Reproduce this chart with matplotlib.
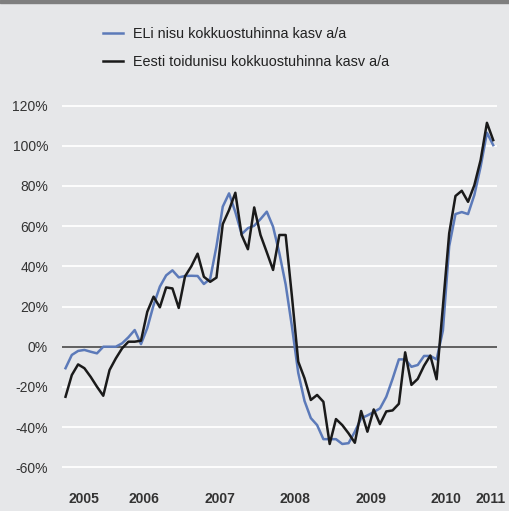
import numpy as np
import pandas as pd
import matplotlib
matplotlib.use("Agg")
import matplotlib.pyplot as plt
from matplotlib.patches import Rectangle

plt.rcParams['font.family'] = ['Liberation Sans', 'DejaVu Sans']

# monthly y/y growth, Jun 2005 .. Feb 2011
months = pd.date_range('2005-06-01', periods=69, freq='MS')

eu_wheat = [-10.7, -4.1, -2.1, -1.6, -2.5, -3.3, 0.0, 0.0, 0.0, 1.7,
            4.7, 8.3, 1.3, 9.3, 20.7, 29.9, 35.5, 38.0, 34.5, 35.2,
            35.3, 35.2, 31.2, 33.8, 50.0, 69.7, 76.3, 67.0, 56.0, 59.0,
            60.2, 63.5, 67.2, 59.7, 46.5, 31.0, 10.0, -13.0, -27.0, -35.5,
            -39.0, -46.0, -46.0, -46.0, -48.4, -48.0, -42.3, -35.6, -34.2, -32.5,
            -30.7, -24.9, -16.0, -6.3, -6.3, -10.0, -9.1, -4.6, -4.6, -6.3,
            8.0, 50.0, 66.0, 67.0, 66.0, 75.5, 89.6, 106.5, 100.3]

ee_wheat = [-24.9, -14.1, -8.8, -10.7, -15.0, -19.9, -24.4, -11.6, -5.8, -0.8,
            2.5, 2.5, 3.0, 17.4, 24.9, 19.6, 29.5, 29.0, 19.3, 35.0,
            40.0, 46.3, 34.8, 32.3, 34.4, 61.0, 68.0, 76.6, 55.6, 48.5,
            69.3, 55.6, 47.0, 38.2, 55.6, 55.6, 25.0, -7.4, -15.7, -26.5,
            -24.0, -27.4, -48.4, -36.0, -39.0, -43.1, -47.8, -32.0, -42.3, -31.2,
            -38.5, -32.2, -31.7, -28.4, -2.8, -19.0, -16.0, -9.5, -4.4, -16.2,
            20.0, 56.4, 75.0, 77.6, 72.1, 80.4, 92.9, 111.4, 102.8]

labels = ['ELi nisu kokkuostuhinna kasv a/a',
          'Eesti toidunisu kokkuostuhinna kasv a/a']
y_ticks = [-60, -40, -20, 0, 20, 40, 60, 80, 100, 120]

bg = '#e6e7e9'
x = np.arange(len(months))
years = months.year
year_list = sorted(set(years))
year_pos = [x[years == yr].mean() for yr in year_list]

fig = plt.figure(figsize=(5.09, 5.11), dpi=100, facecolor=bg)
ax = fig.add_axes([0.1218, 0.0462, 0.8546, 0.7669], facecolor=bg)

# top border strip
fig.patches.append(Rectangle((0, 1 - 3 / 511), 1, 3 / 511, transform=fig.transFigure,
                             color='#7f7f7f', zorder=0))

for v in y_ticks:
    if v == 0:
        ax.axhline(0, color='#555555', lw=1.3, zorder=1)
    else:
        ax.axhline(v, color='white', lw=1.3, zorder=1)

ax.plot(x, eu_wheat, color='#5c7ab9', lw=1.8, label=labels[0], zorder=3)
ax.plot(x, ee_wheat, color='#1a1a1a', lw=1.8, label=labels[1], zorder=4)

ax.set_xlim(-0.56, 68.6)
ax.set_ylim(-70, 125)
ax.set_yticks(y_ticks)
ax.set_yticklabels([f'{v}%' for v in y_ticks])
ax.set_xticks(year_pos)
ax.set_xticklabels([str(yr) for yr in year_list], fontweight='bold')
ax.tick_params(axis='y', length=0, pad=10, labelsize=10, labelcolor='#333333')
ax.tick_params(axis='x', length=0, pad=3.5, labelsize=10, labelcolor='#333333')
for s in ax.spines.values():
    s.set_visible(False)

fig.legend(loc='upper left', bbox_to_anchor=(103 / 509, 1 - 27 / 511), frameon=False,
           fontsize=10.4, handlelength=1.4, handletextpad=0.7, labelspacing=0.98,
           borderpad=0, borderaxespad=0, labelcolor='#222222')

fig.savefig('out.png', dpi=100, facecolor=bg)
